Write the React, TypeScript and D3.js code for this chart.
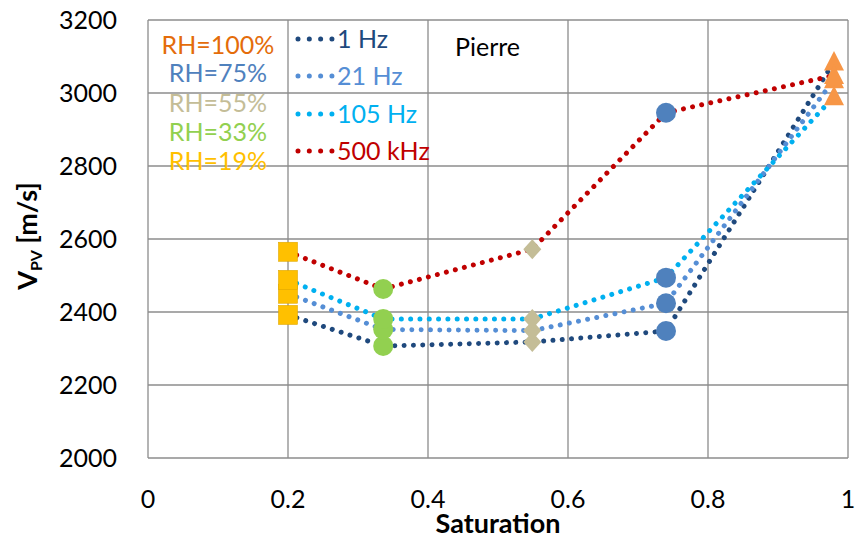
import React from "react";
import * as d3 from "d3";

const saturation = [0.2, 0.336, 0.549, 0.74, 0.98];
const freqNames = ["1 Hz", "21 Hz", "105 Hz", "500 kHz"];
const v1Hz = [2392, 2307, 2318, 2348, 3085];
const v21Hz = [2450, 2352, 2349, 2424, 3036];
const v105Hz = [2488, 2381, 2381, 2494, 2990];
const v500kHz = [2565, 2463, 2572, 2946, 3048];
const freqColors = ["#1F497D", "#558ED5", "#00B0F0", "#C00000"];

const rhNames = ["RH=100%", "RH=75%", "RH=55%", "RH=33%", "RH=19%"];
const rhColors = ["#E46C0A", "#4F81BD", "#C4BD97", "#92D050", "#FFC000"];
const markerColors = ["#F79646", "#4F81BD", "#C4BD97", "#92D050", "#FFC000"];
// saturation index per RH group
const rhSatIndex = [4, 3, 2, 1, 0];

const xTicks = [0, 0.2, 0.4, 0.6, 0.8, 1];
const yTicks = [2000, 2200, 2400, 2600, 2800, 3000, 3200];

const W = 855, H = 541;
const L = 148, R = 848, T = 20, B = 458;
const FONT = "Lato, 'Open Sans', sans-serif";

export default function App() {
  const x = d3.scaleLinear().domain([0, 1]).range([L, R]);
  const y = d3.scaleLinear().domain([2000, 3200]).range([B, T]);
  const series = [v1Hz, v21Hz, v105Hz, v500kHz];
  const line = d3
    .line<number>()
    .x((_, i) => x(saturation[i]))
    .y((d) => y(d))
    .curve(d3.curveLinear);

  const marker = (g: number, cx: number, cy: number, key: string) => {
    const c = markerColors[g];
    const shape = rhNames[g];
    if (shape === "RH=19%")
      return <rect key={key} x={cx - 9.5} y={cy - 9.5} width={19} height={19} fill={c} stroke="#E0A800" strokeWidth={0.6} />;
    if (shape === "RH=55%")
      return <path key={key} d={`M${cx},${cy - 10}L${cx + 9},${cy}L${cx},${cy + 10}L${cx - 9},${cy}Z`} fill={c} />;
    if (shape === "RH=100%")
      return <path key={key} d={`M${cx},${cy - 11}L${cx + 10},${cy + 8.5}L${cx - 10},${cy + 8.5}Z`} fill={c} />;
    return <circle key={key} cx={cx} cy={cy} r={10} fill={c} />;
  };

  const markersFor = (g: number) =>
    series.map((s, si) => marker(g, x(saturation[rhSatIndex[g]]), y(s[rhSatIndex[g]]), `m${g}-${si}`));

  return (
    <svg width={W} height={H} style={{ position: "absolute", left: 0, top: 0, background: "#fff" }} fontFamily={FONT}>
      {/* grid */}
      {xTicks.map((t) => (
        <line key={"gx" + t} x1={x(t)} x2={x(t)} y1={T} y2={B} stroke="#8C8C8C" strokeWidth={1.3} />
      ))}
      {yTicks.map((t) => (
        <line key={"gy" + t} x1={L} x2={R} y1={y(t)} y2={y(t)} stroke="#8C8C8C" strokeWidth={1.3} />
      ))}
      {/* tick labels */}
      {yTicks.map((t) => (
        <text key={"ty" + t} x={117} y={y(t) + 8.5} textAnchor="end" fontSize={25} fill="#000">
          {t}
        </text>
      ))}
      {xTicks.map((t) => (
        <text key={"tx" + t} x={x(t)} y={508} textAnchor="middle" fontSize={25} fill="#000">
          {d3.format("~g")(t)}
        </text>
      ))}
      <text x={(L + R) / 2} y={533} textAnchor="middle" fontSize={27} fontWeight="bold">
        Saturation
      </text>
      <text transform={`translate(37,236) rotate(-90)`} textAnchor="middle" fontSize={27} fontWeight="bold">
        V<tspan fontSize={16} dy={5}>PV</tspan>
        <tspan dy={-5}> [m/s]</tspan>
      </text>

      {/* lines */}
      {series.map((s, i) => (
        <path
          key={"l" + i}
          d={line(s) || ""}
          fill="none"
          stroke={freqColors[i]}
          strokeWidth={5}
          strokeLinecap="round"
          strokeDasharray="0.01 9.3"
        />
      ))}
      {[0, 1, 2, 3, 4].map((g) => markersFor(g))}

      {/* RH legend */}
      {rhNames.map((n, i) => (
        <text key={"rh" + n} x={218} y={[54, 82, 112, 141, 170][i]} textAnchor="middle" fontSize={25} fill={rhColors[i]}>
          {n}
        </text>
      ))}
      {/* frequency legend */}
      {freqNames.map((n, i) => {
        const ly = [39, 76, 114, 151][i];
        return (
          <g key={"fl" + n}>
            <line x1={298} x2={332} y1={ly} y2={ly} stroke={freqColors[i]} strokeWidth={5} strokeLinecap="round" strokeDasharray="0.01 11.3" />
            <text x={337} y={ly + 9} fontSize={25} fill={freqColors[i]}>
              {n}
            </text>
          </g>
        );
      })}
      <text x={455} y={56} fontSize={25} fill="#000">
        Pierre
      </text>
    </svg>
  );
}
